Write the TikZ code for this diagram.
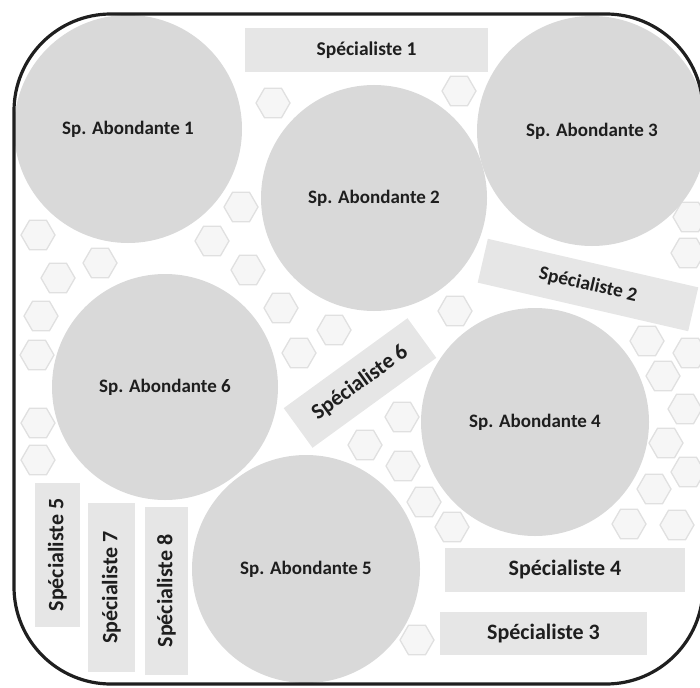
\documentclass[tikz,border=0pt]{standalone}
\usepackage{fontspec}
\setmainfont{Carlito}
\usetikzlibrary{shapes.geometric}
\definecolor{circgray}{HTML}{D9D9D9}
\definecolor{boxgray}{HTML}{E6E6E6}
\definecolor{hexline}{HTML}{E0E0E0}
\definecolor{hexfill}{HTML}{F6F6F6}
\definecolor{txt}{HTML}{1E1E1E}
\begin{document}
\begin{tikzpicture}[x=1pt,y=-1pt,
  abund/.style={circle, fill=circgray, minimum size=#1, inner sep=0pt,
    font=\bfseries\fontsize{19}{22}\selectfont, text=txt},
  spbox/.style={rectangle, fill=boxgray, inner sep=0pt, text=txt,
    font=\bfseries\fontsize{19.5}{22}\selectfont},
  spbig/.style={spbox, font=\bfseries\fontsize{22}{26}\selectfont},
  hex/.style={regular polygon, regular polygon sides=6, minimum size=34pt,
    inner sep=0pt, draw=hexline, fill=hexfill, line width=1.3pt},
  frame/.style={line width=3.2pt, draw=black!88, rounded corners=97pt}]
\useasboundingbox (0,0) rectangle (700,687);
\clip (0,0) rectangle (700,687);
% hexagons
\foreach \x/\y [count=\i] in {273/103, 459/91, 241/207, 212/241, 38/235, 100/263,
  58/278, 248/270, 281/308, 41/316, 334/330, 299/353, 37/355, 38/423, 38/460,
  455/311, 402/417, 365/445, 403/466, 424/502, 452/527, 417/640, 690/217,
  688/253, 647/341, 690/353, 663/376, 685/409, 666/443, 688/472, 654/489,
  629/524, 677/525}
  \node[hex] (h\i) at (\x,\y) {};
% abundant species
\node[abund=228pt] (a1) at (128,129) {Sp. Abondante 1};
\node[abund=226pt] (a2) at (374,198) {Sp. Abondante 2};
\node[abund=230pt] (a3) at (592,131) {Sp. Abondante 3};
\node[abund=228pt] (a4) at (535,422) {Sp. Abondante 4};
\node[abund=228pt] (a5) at (306,569) {Sp. Abondante 5};
\node[abund=226pt] (a6) at (165,387) {Sp. Abondante 6};
% specialists
\node[spbox, minimum width=243pt, minimum height=44pt] (s1) at (366.5,50) {Spécialiste 1};
\node[spbox, minimum width=216pt, minimum height=45pt, rotate=-13] (s2) at (588,285) {Spécialiste 2};
\node[spbig, minimum width=207pt, minimum height=43pt] (s3) at (543.5,633.5) {Spécialiste 3};
\node[spbig, minimum width=240pt, minimum height=44pt] (s4) at (565,570) {Spécialiste 4};
\node[spbig, minimum width=144pt, minimum height=45pt, rotate=90] (s5) at (57.5,555) {Spécialiste 5};
\node[spbig, minimum width=153pt, minimum height=49pt, rotate=36] (s6) at (360,383) {Spécialiste 6};
\node[spbig, minimum width=169pt, minimum height=47pt, rotate=90] (s7) at (111.5,587.5) {Spécialiste 7};
\node[spbig, minimum width=168pt, minimum height=43pt, rotate=90] (s8) at (166.5,591) {Spécialiste 8};
% frame
\draw[frame] (14,14) rectangle (703,684);
\end{tikzpicture}
\end{document}
